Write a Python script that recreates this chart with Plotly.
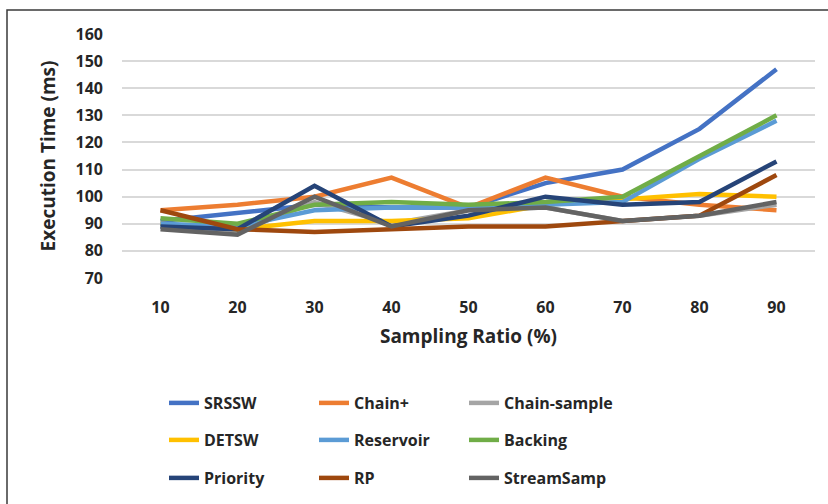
import plotly.graph_objects as go

# Sampling ratios (%) on the x axis
ratios = ["10", "20", "30", "40", "50", "60", "70", "80", "90"]

# Execution time (ms) per algorithm
srssw = [91, 94, 97, 96, 96, 105, 110, 125, 147]
chain_plus = [95, 97, 100, 107, 96, 107, 100, 97, 95]
chain_sample = [89, 87, 98, 90, 95, 96, 91, 93, 97]
detsw = [90, 88, 91, 91, 92, 97, 99, 101, 100]
reservoir = [90, 89, 95, 96, 96, 97, 98, 114, 128]
backing = [92, 90, 97, 98, 97, 98, 100, 115, 130]
priority = [89, 88, 104, 89, 93, 100, 97, 98, 113]
rp = [95, 88, 87, 88, 89, 89, 91, 93, 108]
streamsamp = [88, 86, 100, 89, 95, 96, 91, 93, 98]

y_ticks = [70, 80, 90, 100, 110, 120, 130, 140, 150, 160]

series = [
    ("SRSSW", srssw, "#4472C4", "legend"),
    ("Chain+", chain_plus, "#ED7D31", "legend"),
    ("Chain-sample", chain_sample, "#A5A5A5", "legend"),
    ("DETSW", detsw, "#FFC000", "legend2"),
    ("Reservoir", reservoir, "#5B9BD5", "legend2"),
    ("Backing", backing, "#70AD47", "legend2"),
    ("Priority", priority, "#264478", "legend3"),
    ("RP", rp, "#9E480E", "legend3"),
    ("StreamSamp", streamsamp, "#636363", "legend3"),
]

FONT = "'Open Sans', Lato, sans-serif"
TXT = "#262626"
W, H = 828, 504

fig = go.Figure()
for name, vals, color, lg in series:
    fig.add_trace(go.Scatter(
        x=ratios, y=vals, name=name, mode="lines",
        line=dict(color=color, width=4.5),
        legend=lg,
    ))

def legend_row(y_px):
    # one legend per row, three entries each
    return dict(
        orientation="h",
        xref="container", yref="container",
        x=164 / W, y=1 - y_px / H,
        xanchor="left", yanchor="middle",
        entrywidth=105, entrywidthmode="pixels",
        font=dict(family=FONT, size=16, color=TXT, weight="bold"),
        bgcolor="rgba(0,0,0,0)",
        traceorder="normal",
    )

fig.update_layout(
    width=W, height=H,
    margin=dict(l=122, r=13, t=34, b=226),
    paper_bgcolor="white",
    plot_bgcolor="white",
    font=dict(family=FONT, color=TXT),
    showlegend=True,
    legend=legend_row(403),
    legend2=legend_row(440),
    legend3=legend_row(478),
    xaxis=dict(
        type="category",
        range=[-0.5, 8.5],
        showgrid=False, zeroline=False, showline=False,
        ticks="",
        tickfont=dict(family=FONT, size=16, color=TXT, weight="bold"),
        ticklabelstandoff=18,
        title=dict(text="Sampling Ratio (%)",
                   font=dict(family=FONT, size=19, color=TXT, weight="bold"),
                   standoff=12),
    ),
    yaxis=dict(
        range=[70, 160],
        tickvals=y_ticks,
        showgrid=True, gridcolor="#D9D9D9", gridwidth=2,
        zeroline=False, showline=False,
        ticks="",
        tickfont=dict(family=FONT, size=16, color=TXT, weight="bold"),
        ticklabelstandoff=18,
        title=dict(text="Execution Time (ms)",
                   font=dict(family=FONT, size=19, color=TXT, weight="bold"),
                   standoff=14),
    ),
    shapes=[
        # frame around the chart area (left and top edges visible)
        dict(type="rect", xref="paper", yref="paper",
             x0=(7 - 122) / 693, x1=1.2, y0=-2.0, y1=(278 - 10) / 244,
             line=dict(color="#3A3A3A", width=1.5), layer="below"),
    ],
)

fig.write_html("out.html")
